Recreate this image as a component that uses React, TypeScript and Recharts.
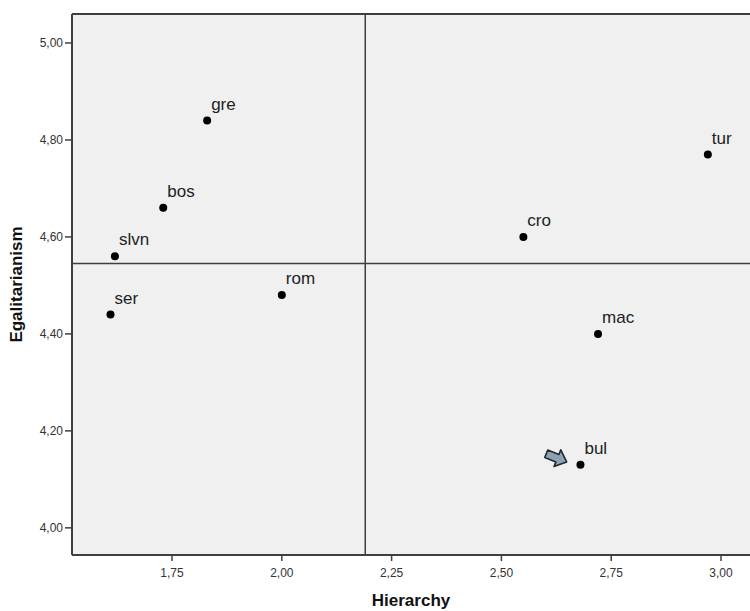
import React from 'react';
import { ScatterChart, Scatter, XAxis, YAxis, CartesianGrid, ReferenceLine } from 'recharts';

// country codes with their scores
const countries = ['gre', 'bos', 'slvn', 'ser', 'rom', 'cro', 'tur', 'mac', 'bul'];
const hierarchy = [1.83, 1.73, 1.62, 1.61, 2.0, 2.55, 2.97, 2.72, 2.68];
const egalitarianism = [4.84, 4.66, 4.56, 4.44, 4.48, 4.6, 4.77, 4.4, 4.13];

const xTicks = [1.75, 2.0, 2.25, 2.5, 2.75, 3.0];
const yTicks = [4.0, 4.2, 4.4, 4.6, 4.8, 5.0];

// quadrant split lines
const hierarchySplit = 2.19;
const egalitarianismSplit = 4.545;

const xDomain = [1.5223, 3.066];
const yDomain = [3.944, 5.0598];

const data = countries.map((name, i) => ({
  name,
  x: hierarchy[i],
  y: egalitarianism[i],
}));

const fmt = (v: number) => v.toFixed(2).replace('.', ',');

const frame = '#3f3f3f';
const font = '"Liberation Sans", Arial, sans-serif';

const Point = (props: any) => {
  const { cx, cy, payload } = props;
  return (
    <g>
      {payload.name === 'bul' && (
        <g transform={`translate(${cx - 24},${cy - 7}) rotate(22)`}>
          <polygon
            points="-11,-4 1,-4 1,-9 11,0 1,9 1,4 -11,4"
            fill="#8fa2b2"
            stroke="#1f2a33"
            strokeWidth={1.6}
            strokeLinejoin="round"
          />
        </g>
      )}
      <circle cx={cx} cy={cy} r={4} fill="#000" />
      <text x={cx + 4} y={cy - 11} fontSize={17} fill="#222" fontFamily={font}>
        {payload.name}
      </text>
    </g>
  );
};

export default function App() {
  return (
    <div style={{ position: 'absolute', left: 0, top: 0, background: '#fff' }}>
      <ScatterChart width={750} height={611} margin={{ top: 14, right: 0, bottom: 0, left: 0 }}>
        <CartesianGrid fill="#f0f0f0" horizontal={false} vertical={false} />
        <XAxis
          type="number"
          dataKey="x"
          domain={xDomain}
          allowDataOverflow
          ticks={xTicks}
          interval={0}
          tickFormatter={fmt}
          height={56}
          tickSize={6}
          tickMargin={7}
          axisLine={{ stroke: frame, strokeWidth: 2 }}
          tickLine={{ stroke: frame, strokeWidth: 1.5 }}
          tick={{ fontSize: 12, fill: '#333', fontFamily: font }}
          label={{
            value: 'Hierarchy',
            position: 'insideBottom',
            offset: 5,
            style: { fontSize: 17, fontWeight: 'bold', fill: '#111', fontFamily: font },
          }}
        />
        <YAxis
          type="number"
          dataKey="y"
          domain={yDomain}
          allowDataOverflow
          ticks={yTicks}
          interval={0}
          tickFormatter={fmt}
          width={72}
          tickSize={7}
          tickMargin={2}
          axisLine={{ stroke: frame, strokeWidth: 2 }}
          tickLine={{ stroke: frame, strokeWidth: 1.5 }}
          tick={{ fontSize: 12, fill: '#333', fontFamily: font }}
          label={{
            value: 'Egalitarianism',
            angle: -90,
            position: 'insideLeft',
            offset: 16,
            style: { fontSize: 17, fontWeight: 'bold', fill: '#111', fontFamily: font, textAnchor: 'middle' },
          }}
        />
        <ReferenceLine y={yDomain[1]} stroke={frame} strokeWidth={2} />
        <ReferenceLine x={hierarchySplit} stroke={frame} strokeWidth={1.5} />
        <ReferenceLine y={egalitarianismSplit} stroke={frame} strokeWidth={1.5} />
        <Scatter data={data} shape={<Point />} isAnimationActive={false} />
      </ScatterChart>
    </div>
  );
}
